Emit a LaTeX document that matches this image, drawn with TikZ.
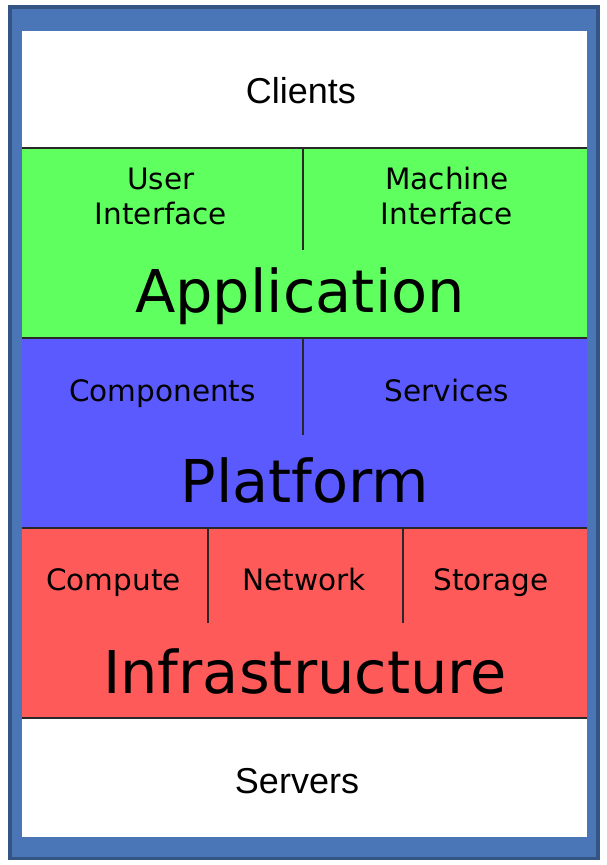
\documentclass[tikz,border=0pt]{standalone}
\usepackage{fontspec}
\setmainfont{DejaVu Sans}
\newfontfamily\edgefont{Liberation Sans}
\definecolor{frameblue}{RGB}{74,118,184}
\definecolor{framedark}{RGB}{52,84,132}
\definecolor{appgreen}{RGB}{96,255,96}
\definecolor{platblue}{RGB}{90,90,255}
\definecolor{infrared}{RGB}{255,90,90}
\definecolor{rule}{RGB}{40,40,40}
\tikzset{
  bandline/.style={draw=rule, line width=2pt},
  divider/.style={draw=rule, line width=1.5pt},
  edgelabel/.style={anchor=base, inner sep=0pt, font=\edgefont\fontsize{36}{40}\selectfont},
  sublabel/.style={anchor=base, inner sep=0pt, align=center, font=\fontsize{29.5}{35}\selectfont},
  biglabel/.style={anchor=base, inner sep=0pt, font=\fontsize{59}{62}\selectfont}
}
\begin{document}
\begin{tikzpicture}[x=1pt,y=-1pt]
\useasboundingbox (0,0) rectangle (606,865);
\fill[white] (0,0) rectangle (606,865);
% outer frame
\draw[fill=frameblue, draw=framedark, line width=3.5pt] (10,7) rectangle (598,858.5);
% layers
\fill[white] (22,31) rectangle (587,148);
\fill[appgreen] (22,148) rectangle (587,338);
\fill[platblue] (22,338) rectangle (587,528);
\fill[infrared] (22,528) rectangle (587,718);
\fill[white] (22,718) rectangle (587,837);
% boundaries between layers
\draw[bandline] (22,148) -- (587,148);
\draw[bandline] (22,338) -- (587,338);
\draw[bandline] (22,528) -- (587,528);
\draw[bandline] (22,718) -- (587,718);
% dividers inside layers
\draw[divider] (303,149) -- (303,250);
\draw[divider] (303,339) -- (303,435);
\draw[divider] (208,529) -- (208,623);
\draw[divider] (403,529) -- (403,623);
% labels (multi-line labels sit on the baseline of their last line)
\node[edgelabel] (clients) at (301,103) {Clients};
\node[sublabel] (ui) at (161,224) {User\\Interface};
\node[sublabel] (mi) at (447,224) {Machine\\Interface};
\node[biglabel] (app) at (300,312) {Application};
\node[sublabel] (comp) at (162.5,401) {Components};
\node[sublabel] (serv) at (447,401) {Services};
\node[biglabel] (plat) at (305,502) {Platform};
\node[sublabel] (compute) at (113.5,590) {Compute};
\node[sublabel] (net) at (304,590) {Network};
\node[sublabel] (stor) at (491,590) {Storage};
\node[biglabel] (infra) at (305,693) {Infrastructure};
\node[edgelabel] (servers) at (297,793) {Servers};
\end{tikzpicture}
\end{document}
